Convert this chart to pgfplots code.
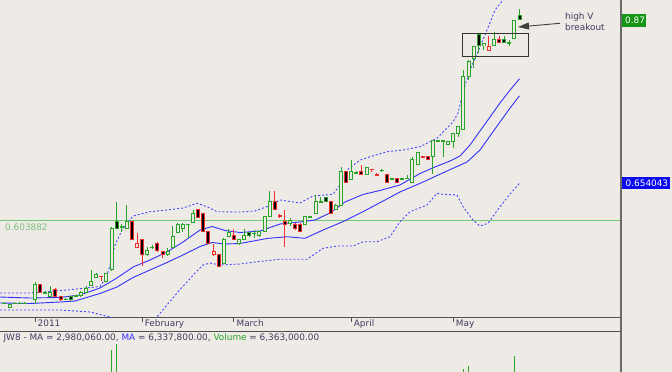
\documentclass[border=0pt]{standalone}
\usepackage{pgfplots}
\pgfplotsset{compat=1.18}
\usepackage{pgfplotstable}
\usepackage{fontspec}
\setmainfont{DejaVu Sans}
\usetikzlibrary{arrows.meta}
\definecolor{bg}{RGB}{238,235,231}
\definecolor{cg}{RGB}{40,165,40}
\definecolor{cr}{RGB}{245,45,45}
\definecolor{bl}{RGB}{50,50,250}
\definecolor{txt}{RGB}{75,55,95}
\definecolor{frm}{RGB}{80,80,80}
\definecolor{lg}{RGB}{115,200,115}
\definecolor{lgt}{RGB}{125,190,125}
\definecolor{gbox}{RGB}{20,150,20}
\definecolor{bbox}{RGB}{10,10,240}
\newcommand\fsz{\fontsize{8.9}{11}\selectfont}

\pgfplotsset{
  cwick/.style={only marks, mark size=0pt, mark options={draw=none, fill=none}, forget plot,
    error bars/.cd, y dir=both, y explicit, error mark=none,
    error bar style={line width=1pt, draw=#1}},
  cbody/.style 2 args={only marks, mark size=0pt, mark options={draw=none, fill=none}, forget plot,
    error bars/.cd, y dir=both, y explicit, error mark=none,
    error bar style={line width=#1, draw=#2}},
}
\newcommand\candles[3]{%
  \addplot[cwick=#2] table[x=i, y expr={(\thisrow{h}+\thisrow{l})/2}, y error expr={(\thisrow{h}-\thisrow{l})/2}] {#1};
  \addplot[cbody={4pt}{#2}] table[x=i, y expr={(\thisrow{o}+\thisrow{c})/2}, y error expr={abs(\thisrow{o}-\thisrow{c})/2+0.00066}] {#1};
  \addplot[cbody={2pt}{#3}] table[x=i, y expr={(\thisrow{o}+\thisrow{c})/2}, y error expr={max(abs(\thisrow{o}-\thisrow{c})/2-0.00066,0)}] {#1};
}

% green, hollow (close >= open)
\pgfplotstableread{
i o h l c
-6 0.4945 0.4958 0.4932 0.4945
-5 0.4888 0.4940 0.4880 0.4934
-4 0.4945 0.4958 0.4932 0.4945
-3 0.4945 0.4958 0.4932 0.4945
-2 0.4945 0.4958 0.4932 0.4945
0 0.5000 0.5226 0.4934 0.5199
2 0.5088 0.5110 0.5070 0.5088
3 0.5035 0.5181 0.5031 0.5093
6 0.5000 0.5011 0.4985 0.5000
8 0.5044 0.5057 0.5031 0.5044
9 0.5044 0.5110 0.5031 0.5093
10 0.5088 0.5177 0.5077 0.5137
11 0.5181 0.5389 0.5170 0.5234
12 0.5292 0.5349 0.5283 0.5332
14 0.5239 0.5349 0.5230 0.5336
15 0.5389 0.5953 0.5376 0.5943
17 0.5960 0.6000 0.5893 0.5960
18 0.5943 0.6252 0.5933 0.6030
22 0.5588 0.5698 0.5581 0.5641
23 0.5690 0.5714 0.5668 0.5690
26 0.5588 0.5685 0.5581 0.5632
27 0.5690 0.5973 0.5685 0.5836
28 0.5889 0.6006 0.5880 0.5995
29 0.5943 0.6006 0.5889 0.5995
30 0.5995 0.6002 0.5810 0.5995
31 0.6022 0.6185 0.6009 0.6142
37 0.5478 0.5807 0.5469 0.5796
38 0.5831 0.5929 0.5827 0.5889
40 0.5734 0.5800 0.5727 0.5796
41 0.5796 0.5929 0.5789 0.5840
43 0.5876 0.5920 0.5814 0.5876
44 0.5840 0.5907 0.5833 0.5897
45 0.5897 0.6105 0.5893 0.6096
46 0.6096 0.6437 0.6092 0.6295
50 0.6009 0.6072 0.5973 0.6039
53 0.5999 0.6105 0.5992 0.6096
54 0.6096 0.6105 0.6080 0.6096
55 0.6142 0.6384 0.6132 0.6295
56 0.6295 0.6358 0.6285 0.6295
59 0.6195 0.6265 0.6185 0.6251
60 0.6251 0.6760 0.6244 0.6693
62 0.6593 0.6849 0.6583 0.6693
63 0.6680 0.6696 0.6663 0.6680
65 0.6650 0.6756 0.6643 0.6752
68 0.6710 0.6730 0.6686 0.6710
70 0.6597 0.6604 0.6584 0.6597
72 0.6597 0.6604 0.6590 0.6597
73 0.6606 0.6650 0.6597 0.6606
74 0.6553 0.6893 0.6544 0.6858
75 0.6792 0.6961 0.6782 0.6951
78 0.6893 0.7108 0.6659 0.7101
79 0.7101 0.7108 0.7094 0.7101
80 0.7101 0.7108 0.6893 0.7101
81 0.7048 0.7096 0.7041 0.7092
82 0.7092 0.7207 0.7004 0.7203
83 0.7203 0.7300 0.7158 0.7291
84 0.7256 0.8043 0.7247 0.7954
85 0.7954 0.8176 0.7910 0.8162
86 0.8198 0.8361 0.8066 0.8352
88 0.8362 0.8401 0.8309 0.8397
90 0.8362 0.8543 0.8355 0.8451
93 0.8405 0.8441 0.8362 0.8405
94 0.8464 0.8706 0.8454 0.8697
}\gh
% green, filled
\pgfplotstableread{
i o h l c
7 0.5035 0.5044 0.4978 0.4991
16 0.6030 0.6295 0.5933 0.5943
42 0.5889 0.5893 0.5833 0.5840
57 0.6348 0.6358 0.6285 0.6295
87 0.8508 0.8514 0.8265 0.8362
92 0.8451 0.8494 0.8401 0.8405
95 0.8760 0.8849 0.8700 0.8707
}\gf
% red, hollow
\pgfplotstableread{
i o h l c
13 0.5306 0.5310 0.5247 0.5306
20 0.5690 0.5884 0.5681 0.5734
35 0.5588 0.5730 0.5581 0.5632
48 0.6106 0.6126 0.6083 0.6106
66 0.6727 0.6730 0.6690 0.6727
67 0.6643 0.6672 0.6640 0.6656
76 0.6893 0.6896 0.6871 0.6893
89 0.8299 0.8494 0.8295 0.8352
}\rh
% red, filled
\pgfplotstableread{
i o h l c
1 0.5190 0.5203 0.5077 0.5088
4 0.5133 0.5150 0.5024 0.5035
5 0.5035 0.5044 0.4978 0.4991
19 0.6030 0.6039 0.5787 0.5796
21 0.5796 0.5800 0.5446 0.5597
24 0.5743 0.5754 0.5634 0.5641
25 0.5632 0.5641 0.5544 0.5597
32 0.6195 0.6199 0.6075 0.6088
33 0.6142 0.6146 0.5893 0.5897
34 0.5897 0.5907 0.5734 0.5743
36 0.5597 0.5601 0.5429 0.5433
39 0.5840 0.5929 0.5789 0.5796
47 0.6295 0.6441 0.6185 0.6195
49 0.6030 0.6185 0.5698 0.5999
51 0.5999 0.6012 0.5919 0.5933
52 0.5999 0.6006 0.5893 0.5897
58 0.6295 0.6305 0.6132 0.6142
61 0.6693 0.6703 0.6544 0.6553
64 0.6693 0.6782 0.6643 0.6650
69 0.6650 0.6656 0.6544 0.6548
71 0.6597 0.6601 0.6544 0.6553
77 0.6893 0.6896 0.6843 0.6849
91 0.8451 0.8494 0.8401 0.8405
}\rf

\begin{document}
\begin{tikzpicture}[x=1pt,y=1pt,font=\fsz]
\useasboundingbox (0,0) rectangle (672,372);
\fill[bg] (0,0) rectangle (672,372);

\begin{axis}[at={(0pt,54.5pt)}, anchor=south west, scale only axis,
  width=621pt, height=317.5pt,
  xmin=-6.863, xmax=114.9, ymin=0.47583, ymax=0.89715,
  axis x line*=bottom, hide y axis,
  x axis line style={draw=frm, line width=1pt, -},
  xtick={0,21,39,62,82}, xticklabels=\empty,
  tick align=outside, major tick length=4.5pt,
  x tick style={draw=frm, line width=1pt},
  clip=true]
% support line
\addplot[lg, line width=1pt, forget plot] coordinates {(-6.863,0.603882) (114.9,0.603882)};
% Bollinger bands (dashed)
\addplot[bl!90, line width=0.9pt, dash pattern=on 2pt off 2pt, forget plot] coordinates {
(-6.86,0.5083) (-0.98,0.5083) (6.27,0.5123) (12.75,0.5170) (14.06,0.5300) (14.71,0.5455) (15.69,0.5720) (17.06,0.5919) (19.22,0.6105) (22.55,0.6162) (25.88,0.6185) (29.02,0.6211) (31.76,0.6274) (33.73,0.6229) (35.69,0.6162) (40.20,0.6158) (43.14,0.6172) (45.49,0.6229) (48.04,0.6318) (51.96,0.6278) (54.51,0.6371) (58.43,0.6393) (59.80,0.6517) (61.18,0.6716) (63.73,0.6848) (65.69,0.6892) (69.02,0.6958) (72.16,0.6981) (75.49,0.7025) (78.82,0.7136) (80.78,0.7273) (81.96,0.7353) (82.94,0.7472) (83.92,0.7751) (85.29,0.8043) (87.25,0.8348) (88.63,0.8573) (90.20,0.8839) (91.76,0.8972) (95,0.9250)};
\addplot[bl!90, line width=0.9pt, dash pattern=on 2pt off 2pt, forget plot] coordinates {
(-6.86,0.4858) (4.90,0.4858) (10.78,0.4831) (14.71,0.4765) (17.65,0.4659) (20.59,0.4619) (22.55,0.4685) (23.92,0.4765) (25.88,0.4924) (27.84,0.5083) (29.80,0.5229) (31.37,0.5349) (32.94,0.5455) (34.31,0.5481) (36.27,0.5455) (40.20,0.5468) (43.14,0.5495) (48.04,0.5531) (53.33,0.5531) (56.47,0.5676) (59.22,0.5707) (62.35,0.5707) (64.31,0.5764) (67.06,0.5764) (69.61,0.5830) (71.57,0.6030) (73.53,0.6162) (76.86,0.6251) (78.82,0.6406) (80.00,0.6393) (82.75,0.6384) (83.92,0.6229) (85.88,0.6052) (87.25,0.5972) (88.82,0.6008) (91.18,0.6229) (93.14,0.6397) (95,0.6540)};
% moving averages
\addplot[bl, line width=0.9pt, forget plot] coordinates {
(-6.86,0.5030) (-0.98,0.5017) (4.90,0.5024) (8.82,0.5057) (12.75,0.5150) (16.08,0.5283) (19.22,0.5428) (22.55,0.5521) (25.88,0.5628) (29.02,0.5760) (32.35,0.5919) (34.71,0.5966) (37.25,0.5913) (40.20,0.5886) (44.12,0.5906) (48.04,0.5999) (51.96,0.6026) (54.90,0.6052) (57.84,0.6145) (60.78,0.6291) (64.31,0.6391) (67.65,0.6444) (71.57,0.6517) (75.49,0.6669) (78.43,0.6756) (81.37,0.6835) (83.33,0.6901) (85.29,0.7047) (87.25,0.7233) (89.22,0.7419) (91.18,0.7605) (93.14,0.7777) (95,0.7925)};
\addplot[bl, line width=0.9pt, forget plot] coordinates {
(-6.86,0.4951) (-0.98,0.4944) (4.90,0.4964) (7.84,0.4977) (12.75,0.5077) (16.08,0.5163) (19.22,0.5289) (22.55,0.5389) (25.88,0.5488) (29.02,0.5588) (32.35,0.5700) (34.71,0.5753) (37.25,0.5734) (40.20,0.5740) (45.49,0.5807) (49.41,0.5830) (52.94,0.5809) (56.47,0.5919) (60.39,0.6030) (64.31,0.6162) (67.65,0.6282) (71.57,0.6424) (76.08,0.6556) (80.78,0.6702) (84.71,0.6822) (87.25,0.6981) (89.22,0.7167) (91.18,0.7353) (93.14,0.7538) (95,0.7700)};
% candles
\candles{\gh}{cg}{bg}
\candles{\gf}{cg}{black}
\candles{\rh}{cr}{bg}
\candles{\rf}{cr}{black}
\end{axis}

\begin{axis}[at={(0pt,0pt)}, anchor=south west, scale only axis,
  width=621pt, height=40.7pt,
  xmin=-6.863, xmax=114.9, ymin=7, ymax=32, axis lines=none, clip=true]
\addplot[ycomb, draw=cg, line width=1.3pt, mark=none] coordinates {(15,20.4) (16,24.1) (84,8.8) (85,10.7) (94,16.8) (95,6.363)};
\end{axis}

% frames
\draw[frm, line width=1pt] (0,40.7) -- (621,40.7);
\draw[frm!85, line width=1.3pt] (621,0) -- (621,372);

% date labels
\begin{scope}[every node/.style={anchor=base west, inner sep=0pt, text=txt}]
\node at (37.5,45) {2011};
\node at (144.6,45) {February};
\node at (236.4,45) {March};
\node at (353.7,45) {April};
\node at (455.7,45) {May};
\node at (3.4,31) {JW8 - MA = 2,980,060.00, \textcolor{bl}{MA} = 6,337,800.00, \textcolor{cg}{Volume} = 6,363,000.00};
\node at (565,352) {high V};
\node at (565,341) {breakout};
\node[text=lgt] at (5,141.5) {0.603882};
\end{scope}

% right-hand value boxes
\fill[gbox] (622,345.3) rectangle (646,358);
\node[anchor=base west, inner sep=0pt, text=white] at (625,348.4) {0.87};
\fill[bbox] (622,182.7) rectangle (670,194.7);
\node[anchor=base west, inner sep=0pt, text=white] at (625.5,185.8) {0.654043};

% annotation box and arrow
\draw[black!80, line width=1pt] (462.3,338.7) rectangle (528.5,315.3);
\draw[black!75, line width=0.9pt, -{Triangle[length=11pt,width=7pt]}] (560,348.7) -- (518,345);
\end{tikzpicture}
\end{document}
